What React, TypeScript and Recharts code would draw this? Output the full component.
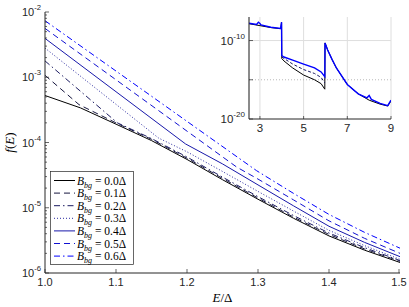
import { LineChart, Line, XAxis, YAxis, CartesianGrid, Legend, ReferenceLine } from 'recharts';

const AX = '#262626';
const SANS = '"Liberation Sans", Arial, sans-serif';
const SERIF = '"Liberation Serif", "DejaVu Serif", serif';

// main panel: f(E) for B_bg = 0.0 ... 0.6 Δ
const B_BG = ['0.0', '0.1', '0.2', '0.3', '0.4', '0.5', '0.6'];
const E0 = [1.0, 1.05, 1.1, 1.15, 1.2, 1.25, 1.3, 1.35, 1.4, 1.45, 1.5];
const F0 = [5.25e-4, 3.39e-4, 1.91e-4, 1.07e-4, 5.5e-5, 2.69e-5, 1.35e-5, 6.9e-6, 3.7e-6, 2.24e-6, 1.45e-6];
const E1 = [1.0, 1.048, 1.1, 1.15, 1.2, 1.25, 1.3, 1.35, 1.4, 1.45, 1.5];
const F1 = [1.07e-3, 3.8e-4, 2.0e-4, 1.12e-4, 5.75e-5, 2.82e-5, 1.41e-5, 7.2e-6, 3.9e-6, 2.34e-6, 1.51e-6];
const E2 = [1.0, 1.102, 1.15, 1.2, 1.25, 1.3, 1.35, 1.4, 1.45, 1.5];
const F2 = [1.78e-3, 2.0e-4, 1.15e-4, 6.0e-5, 2.95e-5, 1.48e-5, 7.6e-6, 4.1e-6, 2.45e-6, 1.55e-6];
const E3 = [1.0, 1.16, 1.2, 1.25, 1.3, 1.35, 1.4, 1.45, 1.5];
const F3 = [2.8e-3, 1.17e-4, 7.2e-5, 3.6e-5, 1.78e-5, 8.9e-6, 4.5e-6, 2.63e-6, 1.62e-6];
const E4 = [1.0, 1.198, 1.25, 1.3, 1.35, 1.4, 1.45, 1.5];
const F4 = [3.94e-3, 9.5e-5, 4.7e-5, 2.24e-5, 1.07e-5, 5.2e-6, 2.95e-6, 1.78e-6];
const E5 = [1.0, 1.27, 1.3, 1.35, 1.4, 1.45, 1.5];
const F5 = [5.6e-3, 4.2e-5, 2.75e-5, 1.32e-5, 6.3e-6, 3.4e-6, 2.0e-6];
const E6 = [1.0, 1.298, 1.35, 1.4, 1.45, 1.5];
const F6 = [7.35e-3, 3.7e-5, 1.66e-5, 7.9e-6, 4.2e-6, 2.4e-6];

const X_TICKS = [1.0, 1.1, 1.2, 1.3, 1.4, 1.5];
const Y_DECADES = [-6, -5, -4, -3, -2];

// inset: wide energy range
const IE_BLACK = [2.5, 3.0, 3.5, 3.95, 3.99, 4.0, 4.1, 4.5, 5.0, 5.5, 5.8, 5.97, 5.98, 6.1, 6.3, 6.5, 7.0, 7.5, 8.0, 8.5, 8.85, 9.0];
const IF_BLACK = [1.4e-8, 7.9e-9, 4.5e-9, 3.2e-9, 2.0e-8, 5.0e-13, 2.5e-13, 3.2e-14, 4.0e-15, 1.0e-15, 3.2e-16, 6.3e-17, 5.0e-11, 6.3e-12, 4.0e-13, 3.2e-14, 2.5e-16, 1.6e-17, 2.5e-18, 7.9e-19, 4.5e-19, 2.0e-18];
const IE_MID = [4.0, 4.5, 5.0, 5.5, 5.8, 5.97];
const IF_MID = [7.9e-13, 1.0e-13, 2.0e-14, 6.3e-15, 2.0e-15, 4.0e-16];
const IE_BLUE = [2.5, 2.85, 2.93, 3.0, 3.05, 3.5, 3.95, 3.99, 4.0, 4.1, 4.5, 5.0, 5.5, 5.8, 5.97, 5.98, 6.1, 6.3, 6.5, 7.0, 7.5, 7.9, 8.0, 8.1, 8.5, 8.85, 9.0];
const IF_BLUE = [1.6e-8, 1.1e-8, 2.2e-8, 1.5e-8, 1.0e-8, 5.0e-9, 3.5e-9, 2.2e-8, 1.26e-12, 7.9e-13, 3.2e-13, 1.0e-13, 3.2e-14, 1.0e-14, 2.5e-15, 5.0e-11, 6.3e-12, 4.0e-13, 3.2e-14, 2.5e-16, 1.6e-17, 5.0e-18, 1.0e-17, 3.2e-18, 1.0e-18, 5.0e-19, 2.5e-18];
const INSET_X_TICKS = [3, 5, 7, 9];
const INSET_Y_TICKS = [1e-20, 1e-15, 1e-10];
const INSET_Y_LABELED = [-20, -10];

const STYLES = [
  { color: '#000000', dash: undefined },
  { color: '#16163e', dash: '6 4' },
  { color: '#1c1c62', dash: '6 3 1.5 3' },
  { color: '#2a2aa0', dash: '1 2' },
  { color: '#1818aa', dash: undefined },
  { color: '#1010d2', dash: '6 4' },
  { color: '#0000ff', dash: '6 3 1.5 3' },
];

const zip = (E: number[], F: number[]) => E.map((e, i) => ({ E: e, f: F[i] }));
const SERIES = [zip(E0, F0), zip(E1, F1), zip(E2, F2), zip(E3, F3), zip(E4, F4), zip(E5, F5), zip(E6, F6)];
const INSET = [
  { d: zip(IE_BLACK, IF_BLACK), color: '#000000', w: 1, dash: undefined },
  { d: zip(IE_MID, IF_MID), color: '#1c1c62', w: 1, dash: '3 2' },
  { d: zip(IE_BLUE, IF_BLUE), color: '#0000ff', w: 1.4, dash: undefined },
];

const Y_TICKS = Y_DECADES.flatMap(d => (d === -2 ? [1] : [1, 2, 3, 4, 5, 6, 7, 8, 9]).map(m => m * Math.pow(10, d)));
const isDecade = (v: number) => { const l = Math.log10(v); return Math.abs(l - Math.round(l)) < 1e-6; };

const XTick = (p: any) => {
  const { x, y, payload, top, fmt, len = 4, fs = 11 } = p;
  return <g>
    <line x1={x} x2={x} y1={y} y2={top ? y + len : y - len} stroke={AX} strokeWidth={0.7} />
    {!top && <text x={x} y={y + 13} textAnchor="middle" fontSize={fs} fill={AX} fontFamily={SANS}>{fmt(payload.value)}</text>}
  </g>;
};

const YTick = (p: any) => {
  const { x, y, payload, right, labeled, fs = 11 } = p;
  const major = isDecade(payload.value);
  const len = major ? 4 : 2;
  const e = Math.round(Math.log10(payload.value));
  const show = !right && major && (!labeled || labeled.includes(e));
  return <g>
    <line x1={x} x2={right ? x - len : x + len} y1={y} y2={y} stroke={AX} strokeWidth={0.7} />
    {show && <text x={x - 4} y={y + 4} textAnchor="end" fontSize={fs} fill={AX} fontFamily={SANS}>
      10<tspan dy={-6} fontSize={fs * 0.7}>{e}</tspan>
    </text>}
  </g>;
};

const LegendBox = () => (
  <svg width={84} height={94} style={{ display: 'block' }}>
    <rect x={0.5} y={0.5} width={83} height={93} fill="#fff" stroke={AX} strokeWidth={0.7} />
    {B_BG.map((b, i) => {
      const cy = 9.5 + i * 12.6;
      return <g key={b}>
        <line x1={4} x2={25} y1={cy} y2={cy} stroke={STYLES[i].color} strokeWidth={1} strokeDasharray={STYLES[i].dash} />
        <text x={27} y={cy + 4} fontSize={11.5} fill="#000" fontFamily={SERIF}>
          <tspan fontStyle="italic">B</tspan>
          <tspan fontStyle="italic" fontSize={8} dy={3}>bg</tspan>
          <tspan dy={-3}> = {b}Δ</tspan>
        </text>
      </g>;
    })}
  </svg>
);

export default function App() {
  return (
    <div style={{ position: 'absolute', left: 0, top: 0, width: 409, height: 307, background: '#fff' }}>
      <LineChart width={409} height={307} margin={{ top: 12, right: 9, bottom: 0, left: 0 }}>
        <XAxis dataKey="E" type="number" domain={[1, 1.5]} ticks={X_TICKS} allowDataOverflow height={34}
          tickSize={0} tickMargin={0} stroke={AX} tick={<XTick fmt={(v: number) => v.toFixed(1)} />}
          label={{ content: (lp: any) => { const vb = lp.viewBox; return <text x={vb.x + vb.width / 2} y={vb.y + 29} textAnchor="middle" fontSize={13} fontFamily={SERIF} fill="#000"><tspan fontStyle="italic">E</tspan>/Δ</text>; } }} />
        <XAxis xAxisId="top" orientation="top" type="number" domain={[1, 1.5]} ticks={X_TICKS} allowDataOverflow height={0}
          tickSize={0} tickMargin={0} stroke={AX} tick={<XTick top fmt={() => ''} />} />
        <YAxis scale="log" type="number" domain={[1e-6, 1e-2]} ticks={Y_TICKS} allowDataOverflow width={45}
          tickSize={0} tickMargin={0} stroke={AX} tick={<YTick />} interval={0}
          label={{ content: (lp: any) => { const vb = lp.viewBox; const cx = vb.x + 14, cy = vb.y + vb.height / 2; return <text x={cx} y={cy} transform={`rotate(-90 ${cx} ${cy})`} textAnchor="middle" fontSize={13} fontFamily={SERIF} fill="#000"><tspan fontStyle="italic">f</tspan>(<tspan fontStyle="italic">E</tspan>)</text>; } }} />
        <YAxis yAxisId="right" orientation="right" scale="log" type="number" domain={[1e-6, 1e-2]} ticks={Y_TICKS} allowDataOverflow width={0}
          tickSize={0} tickMargin={0} stroke={AX} tick={<YTick right />} interval={0} />
        {SERIES.map((d, i) => (
          <Line key={i} data={d} dataKey="f" type="linear" stroke={STYLES[i].color} strokeWidth={1}
            strokeDasharray={STYLES[i].dash} dot={false} activeDot={false} isAnimationActive={false} />
        ))}
        <Legend layout="vertical" align="center" verticalAlign="middle" content={<LegendBox />}
          wrapperStyle={{ position: 'absolute', left: 50, top: 171, width: 84, height: 94 }} />
      </LineChart>

      <div style={{ position: 'absolute', left: 205, top: 10 }}>
        <LineChart width={190} height={132} margin={{ top: 7, right: 4, bottom: 0, left: 0 }}>
          <CartesianGrid horizontal={false} stroke="#dedede" fill="#fff" />
          <ReferenceLine y={1e-10} stroke="#dedede" />
          <ReferenceLine y={1e-15} stroke="#b8b8b8" strokeDasharray="1 2" />
          <XAxis dataKey="E" type="number" domain={[2.5, 9]} ticks={INSET_X_TICKS} allowDataOverflow height={23}
            tickSize={0} tickMargin={0} stroke={AX} tick={<XTick len={3} fs={11.5} fmt={(v: number) => String(v)} />} />
          <XAxis xAxisId="top" orientation="top" type="number" domain={[2.5, 9]} ticks={INSET_X_TICKS} allowDataOverflow height={0}
            tickSize={0} tickMargin={0} stroke={AX} tick={<XTick top len={3} fmt={() => ''} />} />
          <YAxis scale="log" type="number" domain={[1e-20, 1e-7]} ticks={INSET_Y_TICKS} allowDataOverflow width={44}
            tickSize={0} tickMargin={0} stroke={AX} interval={0} tick={<YTick labeled={INSET_Y_LABELED} fs={11.5} />} />
          <YAxis yAxisId="right" orientation="right" scale="log" type="number" domain={[1e-20, 1e-7]} ticks={INSET_Y_TICKS} allowDataOverflow width={0}
            tickSize={0} tickMargin={0} stroke={AX} interval={0} tick={<YTick right />} />
          {INSET.map((s, i) => (
            <Line key={i} data={s.d} dataKey="f" type="linear" stroke={s.color} strokeWidth={s.w}
              strokeDasharray={s.dash} dot={false} activeDot={false} isAnimationActive={false} />
          ))}
        </LineChart>
      </div>
    </div>
  );
}
